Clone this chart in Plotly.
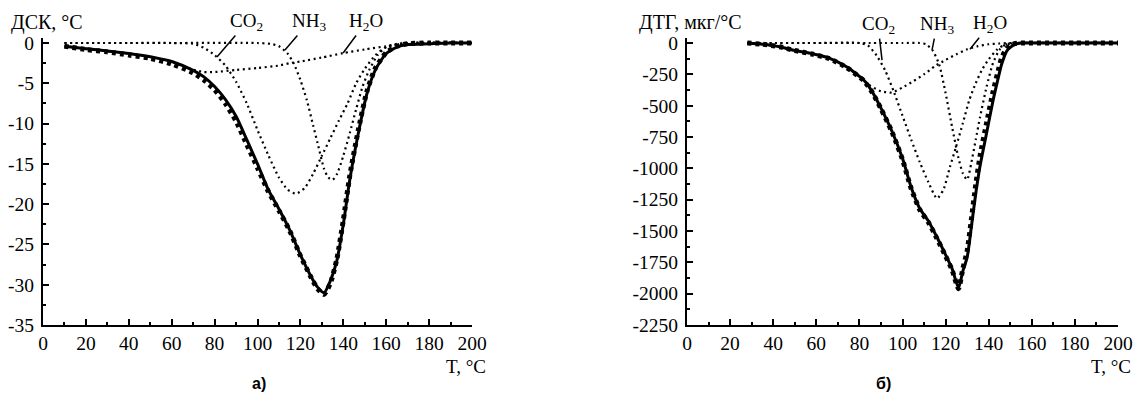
import plotly.graph_objects as go

# The page body adds an 8px margin on every side; size the figure so the page never scrolls.
PAGE_W, PAGE_H = 1141, 412
OFF = 8
W, H = PAGE_W - 2 * OFF, PAGE_H - 2 * OFF

# ---------------- Data: left chart (DSC) ----------------
dsc_T = [10, 20, 30, 40, 50, 60, 70, 75, 80, 85, 90, 95, 100, 105, 110, 115, 120, 125, 128, 131,
         134, 137, 140, 143, 147, 151, 155, 160, 165, 170, 180, 190, 200]
dsc_total = [-0.4, -0.7, -1.0, -1.3, -1.7, -2.3, -3.4, -4.2, -5.4, -7.0, -9.1, -12.0, -15.0, -18.2,
             -20.6, -23.2, -26.3, -29.0, -30.3, -31.0, -29.5, -27.0, -22.5, -17.0, -11.2, -6.3,
             -3.3, -1.3, -0.5, -0.2, -0.1, 0.0, 0.0]
dsc_fit = [-0.4, -0.8, -1.1, -1.5, -1.9, -2.6, -3.7, -4.6, -5.8, -7.5, -9.7, -12.6, -15.5, -18.4,
           -20.8, -23.3, -26.4, -29.1, -30.5, -31.2, -29.8, -26.8, -22.0, -16.5, -10.8, -6.0,
           -3.1, -1.2, -0.4, -0.1, 0.0, 0.0, 0.0]

dsc_co2_T = [10, 40, 60, 70, 75, 80, 85, 90, 95, 100, 105, 110, 114, 118, 122, 126, 130, 134, 138,
             142, 146, 150, 155, 160, 170, 200]
dsc_co2 = [0, 0, 0, -0.1, -0.6, -1.5, -2.8, -4.8, -7.5, -10.8, -13.9, -16.7, -18.2, -18.7, -18.0,
           -16.2, -14.0, -11.8, -9.6, -7.5, -5.0, -3.2, -1.5, -0.5, 0, 0]

dsc_nh3_T = [10, 60, 100, 106, 110, 114, 117, 120, 123, 126, 128, 131, 133, 135, 137, 140, 143,
             146, 149, 152, 156, 160, 165, 170, 200]
dsc_nh3 = [0, 0, 0, -0.1, -0.4, -1.3, -2.6, -4.6, -7.1, -10.3, -12.4, -15.6, -16.7, -17.0, -16.3,
           -14.0, -11.2, -8.2, -5.4, -3.4, -1.5, -0.5, -0.1, 0, 0]

dsc_h2o_T = [10, 20, 30, 40, 50, 60, 70, 75, 80, 90, 100, 110, 115, 120, 130, 140, 150, 160, 170,
             180, 200]
dsc_h2o = [-0.4, -0.7, -1.0, -1.3, -1.7, -2.3, -3.3, -3.6, -3.6, -3.35, -3.1, -2.8, -2.5, -2.3,
           -1.8, -1.25, -0.8, -0.4, -0.1, 0, 0]

# ---------------- Data: right chart (DTG) ----------------
dtg_T = [28, 35, 43, 50, 58, 66, 74, 82, 86, 90, 95, 100, 104, 108, 112, 116, 120, 123, 126, 128,
         130, 132, 134, 136, 139, 142, 144, 146, 148.5, 152, 155, 160, 170, 180, 190, 200]
dtg_total = [0, -10, -30, -60, -85, -120, -190, -295, -390, -520, -700, -920, -1150, -1320, -1420,
             -1550, -1690, -1800, -1955, -1820, -1710, -1460, -1200, -980, -720, -460, -310, -170,
             -60, -10, 0, 0, 0, 0, 0, 0]
dtg_fit = [0, -10, -30, -60, -88, -125, -195, -300, -395, -525, -705, -930, -1160, -1330, -1430,
           -1560, -1700, -1810, -1960, -1800, -1660, -1400, -1130, -900, -640, -390, -250, -120,
           -40, -5, 0, 0, 0, 0, 0, 0]

dtg_co2_T = [28, 60, 80, 84, 88, 92, 96, 100, 104, 108, 112, 116, 119, 122, 125, 128, 131, 134,
             137, 140, 144, 148, 155, 200]
dtg_co2 = [0, 0, 0, -20, -100, -220, -390, -580, -770, -950, -1110, -1240, -1170, -990, -820,
           -640, -455, -320, -210, -130, -50, -10, 0, 0]

dtg_nh3_T = [28, 100, 108, 111, 114, 117, 120, 123, 126, 128, 130, 132, 134, 136, 139, 142, 145,
             148, 155, 200]
dtg_nh3 = [0, 0, 0, -10, -60, -170, -400, -670, -920, -1040, -1090, -950, -770, -590, -350, -160,
           -55, -10, 0, 0]

dtg_h2o_T = [28, 35, 43, 50, 58, 66, 74, 80, 85, 90, 95, 100, 105, 110, 115, 120, 125, 130, 135,
             140, 145, 150, 200]
dtg_h2o = [0, -10, -30, -60, -85, -120, -190, -270, -340, -385, -395, -355, -305, -250, -185,
           -135, -90, -50, -25, -10, -4, 0, 0]

# tick settings
x_ticks = [0, 20, 40, 60, 80, 100, 120, 140, 160, 180, 200]
dsc_ticks = [0, -5, -10, -15, -20, -25, -30, -35]
dtg_ticks = [0, -250, -500, -750, -1000, -1250, -1500, -1750, -2000, -2250]
dsc_ticktext = [str(v) for v in dsc_ticks]   # plain hyphen as in the original
dtg_ticktext = [str(v) for v in dtg_ticks]

fig = go.Figure()

SM = 0.6


def add(x, y, xa, ya, style):
    if style == "solid":
        line = dict(color="black", width=3, shape="spline", smoothing=SM)
    elif style == "fit":
        line = dict(color="black", width=5, dash="4px,4px", shape="spline", smoothing=SM)
    else:
        line = dict(color="black", width=2.2, dash="2px,3.5px", shape="spline", smoothing=SM)
    fig.add_trace(go.Scatter(x=x, y=y, mode="lines", line=line, xaxis=xa, yaxis=ya,
                             showlegend=False, hoverinfo="skip"))


add(dsc_co2_T, dsc_co2, "x", "y", "dot")
add(dsc_nh3_T, dsc_nh3, "x", "y", "dot")
add(dsc_h2o_T, dsc_h2o, "x", "y", "dot")
add(dsc_T, dsc_total, "x", "y", "solid")
add(dsc_T, dsc_fit, "x", "y", "fit")

add(dtg_co2_T, dtg_co2, "x2", "y2", "dot")
add(dtg_nh3_T, dtg_nh3, "x2", "y2", "dot")
add(dtg_h2o_T, dtg_h2o, "x2", "y2", "dot")
add(dtg_T, dtg_total, "x2", "y2", "solid")
add(dtg_T, dtg_fit, "x2", "y2", "fit")

SERIF = "Liberation Serif, Times New Roman, Times, serif"
TF = dict(family=SERIF, size=19.5, color="black")


def px_x(p):
    return (p - OFF) / W


def px_y(p):
    return 1 - (p - OFF) / H


ydom = [px_y(325), px_y(38)]

xaxis_common = dict(
    range=[0, 200], tickmode="array", tickvals=x_ticks, ticks="inside", ticklen=6, tickwidth=2,
    tickcolor="black", showline=True, linecolor="black", linewidth=2, showgrid=False,
    zeroline=False, tickfont=dict(TF), ticklabelstandoff=0,
    minor=dict(dtick=10, ticks="inside", ticklen=3, tickwidth=2, tickcolor="black", showgrid=False),
)

fig.update_layout(
    width=W, height=H,
    template="none",
    font=dict(family=SERIF, size=19, color="black"),
    margin=dict(l=0, r=0, t=0, b=0),
    paper_bgcolor="white", plot_bgcolor="white",
    xaxis=dict(domain=[px_x(43), px_x(472)], anchor="y", **xaxis_common),
    xaxis2=dict(domain=[px_x(687), px_x(1118)], anchor="y2", **xaxis_common),
    yaxis=dict(
        domain=ydom, anchor="x", range=[-35, 0.62], tickmode="array", tickvals=dsc_ticks,
        ticktext=dsc_ticktext,
        ticks="inside", ticklen=6, tickwidth=2, tickcolor="black",
        showline=True, linecolor="black", linewidth=2, showgrid=False, zeroline=False,
        tickfont=dict(TF), ticklabelstandoff=3,
        minor=dict(dtick=2.5, ticks="inside", ticklen=3, tickwidth=2, tickcolor="black", showgrid=False),
    ),
    yaxis2=dict(
        domain=ydom, anchor="x2", range=[-2250, 40], tickmode="array", tickvals=dtg_ticks,
        ticktext=dtg_ticktext,
        ticks="inside", ticklen=6, tickwidth=2, tickcolor="black",
        showline=True, linecolor="black", linewidth=2, showgrid=False, zeroline=False,
        tickfont=dict(TF), ticklabelstandoff=3,
        minor=dict(dtick=125, ticks="inside", ticklen=3, tickwidth=2, tickcolor="black", showgrid=False),
    ),
)

BLACK_SERIF = dict(family=SERIF, size=20, color="black")
ann = []
# axis titles
ann.append(dict(text="ДСК, °C", x=px_x(9), y=px_y(23), xref="paper", yref="paper",
                xanchor="left", yanchor="middle", showarrow=False, font=BLACK_SERIF))
ann.append(dict(text="ДТГ, мкг/°С", x=px_x(690), y=px_y(23), xref="paper", yref="paper",
                xanchor="center", yanchor="middle", showarrow=False, font=BLACK_SERIF))
ann.append(dict(text="T, °C", x=px_x(488), y=px_y(366), xref="paper", yref="paper",
                xanchor="right", yanchor="middle", showarrow=False,
                font=dict(family=SERIF, size=19, color="black")))
ann.append(dict(text="T, °C", x=1.0, y=px_y(366), xref="paper", yref="paper",
                xanchor="right", yanchor="middle", showarrow=False,
                font=dict(family=SERIF, size=19, color="black")))
# panel labels
SANS = dict(family="Liberation Sans, Arial, sans-serif", size=16, color="black")
ann.append(dict(text="<b>а)</b>", x=px_x(250), y=px_y(394), xref="paper", yref="paper",
                showarrow=False, font=SANS))
ann.append(dict(text="<b>б)</b>", x=px_x(893), y=px_y(394), xref="paper", yref="paper",
                showarrow=False, font=SANS))

# component labels with pointer lines
labels = [
    ("CO<sub>2</sub>", "x", "y", 81.1, -1.74, 30, -35),
    ("NH<sub>3</sub>", "x", "y", 112.8, -0.87, 24, -28),
    ("H<sub>2</sub>O", "x", "y", 139.9, -1.24, 23, -31),
    ("CO<sub>2</sub>", "x2", "y2", 90.5, -136, -4, -35),
    ("NH<sub>3</sub>", "x2", "y2", 113.7, -56, 5, -25),
    ("H<sub>2</sub>O", "x2", "y2", 131.3, -50, 20, -25),
]
for txt, xr, yr, xv, yv, axp, ayp in labels:
    ann.append(dict(text=txt, x=xv, y=yv, xref=xr, yref=yr, ax=axp, ay=ayp,
                    showarrow=True, arrowhead=0, arrowwidth=1.5, arrowcolor="black",
                    font=dict(family=SERIF, size=19, color="black")))

fig.update_layout(annotations=ann)

fig.write_html("out.html")
